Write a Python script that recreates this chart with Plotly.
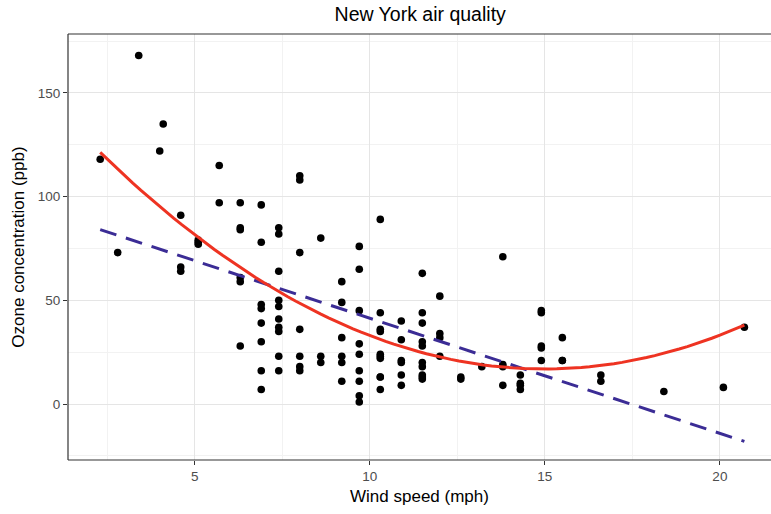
import numpy as np
import plotly.graph_objects as go

# airquality (rows with non-missing Ozone)
wind = [7.4, 8.0, 12.6, 11.5, 14.9, 8.6, 13.8, 20.1, 6.9, 9.7, 9.2, 10.9, 13.2, 11.5, 12.0, 18.4, 11.5, 9.7,
        9.7, 16.6, 9.7, 12.0, 12.0, 14.9, 5.7, 7.4,
        9.7, 13.8, 11.5, 8.0, 14.9, 20.7, 9.2, 11.5, 10.3,
        4.1, 9.2, 9.2, 4.6, 10.9, 5.1, 6.3, 5.7, 7.4, 14.3, 14.9, 14.3, 6.9, 10.3, 6.3, 5.1, 11.5, 6.9,
        8.6, 8.0, 8.6, 12.0, 7.4, 7.4, 7.4, 9.2,
        6.9, 13.8, 7.4, 6.9, 7.4, 4.6, 4.0, 10.3, 8.0, 11.5, 11.5, 9.7, 10.3, 6.3, 7.4, 10.9, 10.3, 15.5,
        14.3, 9.7, 3.4, 8.0, 9.7, 2.3, 6.3, 6.3,
        6.9, 5.1, 2.8, 4.6, 7.4, 15.5, 10.9, 10.3, 10.9, 9.7, 14.9, 15.5, 6.3, 10.9, 11.5, 6.9, 13.8,
        10.3, 10.3, 8.0, 12.6, 9.2, 10.3, 10.3, 16.6, 6.9, 14.3, 8.0, 11.5]
ozone = [41, 36, 12, 18, 28, 23, 19, 8, 7, 16, 11, 14, 18, 14, 34, 6, 30, 11,
         1, 11, 4, 32, 23, 45, 115, 37,
         29, 71, 39, 23, 21, 37, 20, 12, 13,
         135, 49, 32, 64, 40, 77, 97, 97, 85, 10, 27, 7, 48, 35, 61, 79, 63, 16,
         80, 108, 20, 52, 82, 50, 64, 59,
         39, 9, 16, 78, 35, 66, 122, 89, 110, 44, 28, 65, 22, 59, 23, 31, 44, 21,
         9, 45, 168, 73, 76, 118, 84, 85,
         96, 78, 73, 91, 47, 32, 20, 23, 21, 24, 44, 21, 28, 9, 13, 46, 18,
         13, 24, 16, 13, 23, 36, 7, 14, 30, 14, 18, 20]

x_ticks = [5, 10, 15, 20]
y_ticks = [0, 50, 100, 150]

w = np.array(wind)
o = np.array(ozone)
xs = np.linspace(w.min(), w.max(), 80)
quad = np.polyval(np.polyfit(w, o, 2), xs)
lin = np.polyval(np.polyfit(w, o, 1), xs)

fig = go.Figure()
fig.add_trace(go.Scatter(x=wind, y=ozone, mode="markers",
                         marker=dict(color="black", size=7.6), showlegend=False))
fig.add_trace(go.Scatter(x=xs, y=lin, mode="lines",
                         line=dict(color="#3B2C95", width=3, dash="17px,10px"), showlegend=False))
fig.add_trace(go.Scatter(x=xs, y=quad, mode="lines",
                         line=dict(color="#EE3322", width=3), showlegend=False))

grid = "#E5E5E5"
fig.update_layout(
    width=771, height=514,
    margin=dict(l=68, r=0, t=34, b=54, autoexpand=False),
    paper_bgcolor="white", plot_bgcolor="white",
    font=dict(family="Liberation Sans, Arial, sans-serif", color="black"),
    title=dict(text="New York air quality", x=0.545, xanchor="center", y=0.985, yanchor="top",
               font=dict(size=19.5, color="black")),
    xaxis=dict(range=[1.38, 21.46], tickvals=x_ticks, ticktext=[str(v) for v in x_ticks],
               showgrid=True, gridcolor=grid, gridwidth=1.2,
               minor=dict(tickvals=[2.5, 7.5, 12.5, 17.5], showgrid=True, gridcolor="#F2F2F2", gridwidth=0.8),
               showline=False,
               ticks="outside", ticklen=4, tickcolor="#333333", tickwidth=1,
               tickfont=dict(size=13.5, color="#4D4D4D"), zeroline=False,
               title=dict(text="Wind speed (mph)", font=dict(size=17, color="black"), standoff=6)),
    yaxis=dict(range=[-27.0, 178.4], tickvals=y_ticks, ticktext=[str(v) for v in y_ticks],
               showgrid=True, gridcolor=grid, gridwidth=1.2,
               minor=dict(tickvals=[-25, 25, 75, 125, 175], showgrid=True, gridcolor="#F2F2F2", gridwidth=0.8),
               showline=False,
               ticks="outside", ticklen=4, tickcolor="#333333", tickwidth=1,
               tickfont=dict(size=13.5, color="#4D4D4D"), zeroline=False,
               title=dict(text="Ozone concentration (ppb)", font=dict(size=17, color="black"), standoff=8)),
    shapes=[
        dict(type="line", xref="paper", yref="paper", x0=0, x1=1, y0=1, y1=1,
             line=dict(color="#333333", width=1.2)),
        dict(type="line", xref="paper", yref="paper", x0=0, x1=1, y0=0, y1=0,
             line=dict(color="#333333", width=1.2)),
        dict(type="line", xref="paper", yref="paper", x0=0, x1=0, y0=0, y1=1,
             line=dict(color="#333333", width=1.2)),
    ],
)

fig.write_html("out.html")
